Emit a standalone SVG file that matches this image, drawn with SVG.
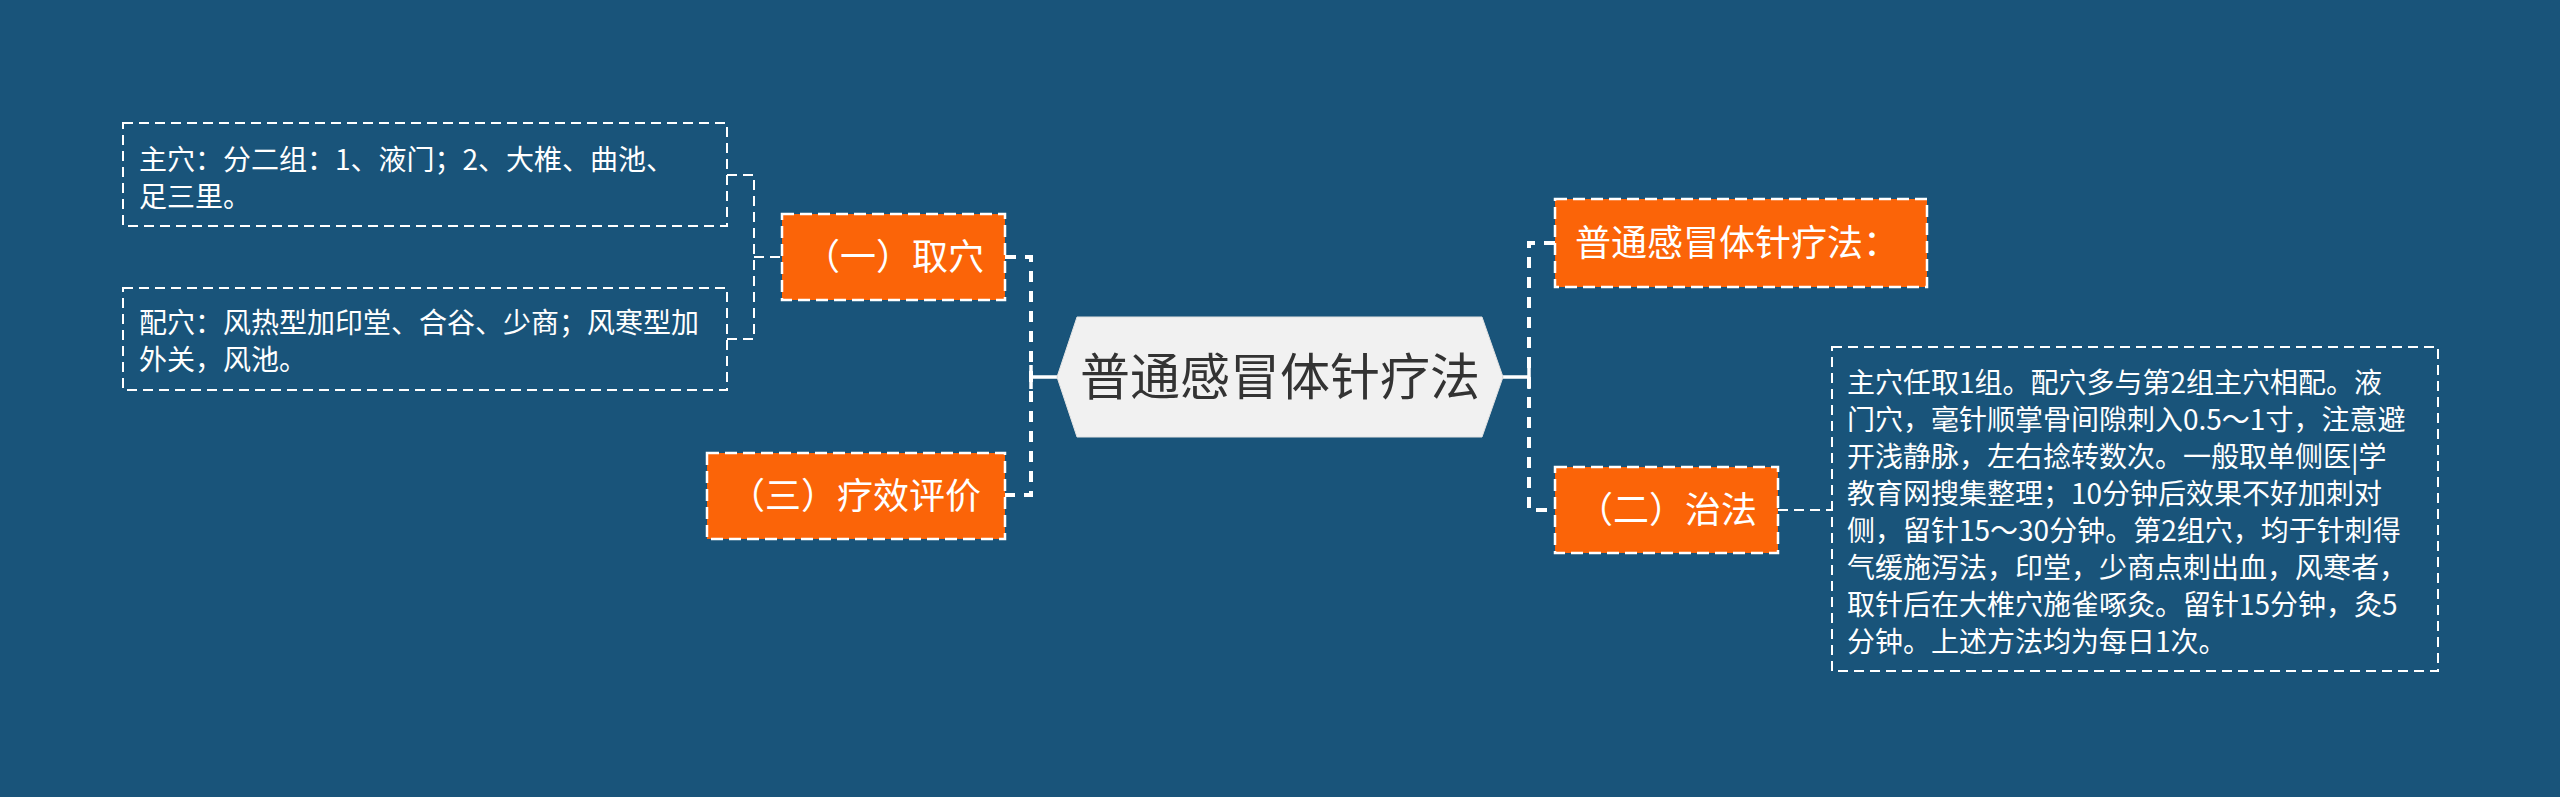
<svg xmlns="http://www.w3.org/2000/svg" width="2560" height="797" viewBox="0 0 2560 797">
<style>
.bg{fill:#19547a}
.orange{fill:#fb6408;stroke:#ffffff;stroke-width:2.5;stroke-dasharray:12 6}
.tbox{fill:none;stroke:#ffffff;stroke-width:2;stroke-dasharray:10 6}
.thick{fill:none;stroke:#ffffff;stroke-width:4;stroke-dasharray:11 9}
.thin{fill:none;stroke:#ffffff;stroke-width:2;stroke-dasharray:10 6}
.solid{fill:none;stroke:#ffffff;stroke-width:3.5}
.t{font-family:"Noto Sans CJK SC","Noto Sans",sans-serif;fill:#ffffff}
.big{font-size:36px}
.small{font-size:28px}
.center{font-family:"Noto Sans CJK SC","Noto Sans",sans-serif;font-size:50px;fill:#333333}
</style>
<rect class="bg" x="0" y="0" width="2560" height="797"/>

<g id="connectors">
  <!-- left bracket of centre -->
  <path class="thick" d="M1005,257 H1031 V495 H1005"/>
  <path class="solid" d="M1031,377 H1057 M1031,365 V389"/>
  <!-- right bracket of centre -->
  <path class="thick" d="M1555,243 H1529 V510 H1555"/>
  <path class="solid" d="M1503,377 H1529 M1529,365 V389"/>
  <!-- left text boxes to (一) -->
  <path class="thin" d="M727,175 H754 V339 H727"/>
  <path class="thin" d="M754,257 H782"/>
  <!-- (二) to text -->
  <path class="thin" d="M1778,510 H1832"/>
</g>

<g id="root">
  <polygon points="1057,377 1077,317 1482,317 1503,377 1482,437 1077,437" fill="#f1f1f1" stroke="#e2e2e2" stroke-width="1"/>
  <text class="center" x="1280" y="395" text-anchor="middle">普通感冒体针疗法</text>
</g>

<g id="node-quxue">
  <rect class="orange" x="782" y="214" width="223" height="86"/>
  <text class="t big" x="804" y="270">（一）取穴</text>
</g>

<g id="node-liaoxiao">
  <rect class="orange" x="707" y="453" width="298" height="86"/>
  <text class="t big" x="729" y="509">（三）疗效评价</text>
</g>

<g id="node-title">
  <rect class="orange" x="1555" y="199" width="372" height="88"/>
  <text class="t big" x="1575" y="256">普通感冒体针疗法：</text>
</g>

<g id="node-zhifa">
  <rect class="orange" x="1555" y="467" width="223" height="86"/>
  <text class="t big" x="1577" y="523">（二）治法</text>
</g>

<g id="node-zhuxue">
  <rect class="tbox" x="123" y="123" width="604" height="103"/>
  <text class="t small" x="139" y="170">主穴：分二组：1、液门；2、大椎、曲池、</text>
  <text class="t small" x="139" y="207">足三里。</text>
</g>

<g id="node-peixue">
  <rect class="tbox" x="123" y="288" width="604" height="102"/>
  <text class="t small" x="139" y="333">配穴：风热型加印堂、合谷、少商；风寒型加</text>
  <text class="t small" x="139" y="370">外关，风池。</text>
</g>

<g id="node-zhifa-text">
  <rect class="tbox" x="1832" y="347" width="606" height="324"/>
  <text class="t small" x="1847" y="393">主穴任取1组。配穴多与第2组主穴相配。液</text>
  <text class="t small" x="1847" y="430">门穴，毫针顺掌骨间隙刺入0.5～1寸，注意避</text>
  <text class="t small" x="1847" y="467">开浅静脉，左右捻转数次。一般取单侧医|学</text>
  <text class="t small" x="1847" y="504">教育网搜集整理；10分钟后效果不好加刺对</text>
  <text class="t small" x="1847" y="541">侧，留针15～30分钟。第2组穴，均于针刺得</text>
  <text class="t small" x="1847" y="578">气缓施泻法，印堂，少商点刺出血，风寒者，</text>
  <text class="t small" x="1847" y="615">取针后在大椎穴施雀啄灸。留针15分钟，灸5</text>
  <text class="t small" x="1847" y="652">分钟。上述方法均为每日1次。</text>
</g>
</svg>
